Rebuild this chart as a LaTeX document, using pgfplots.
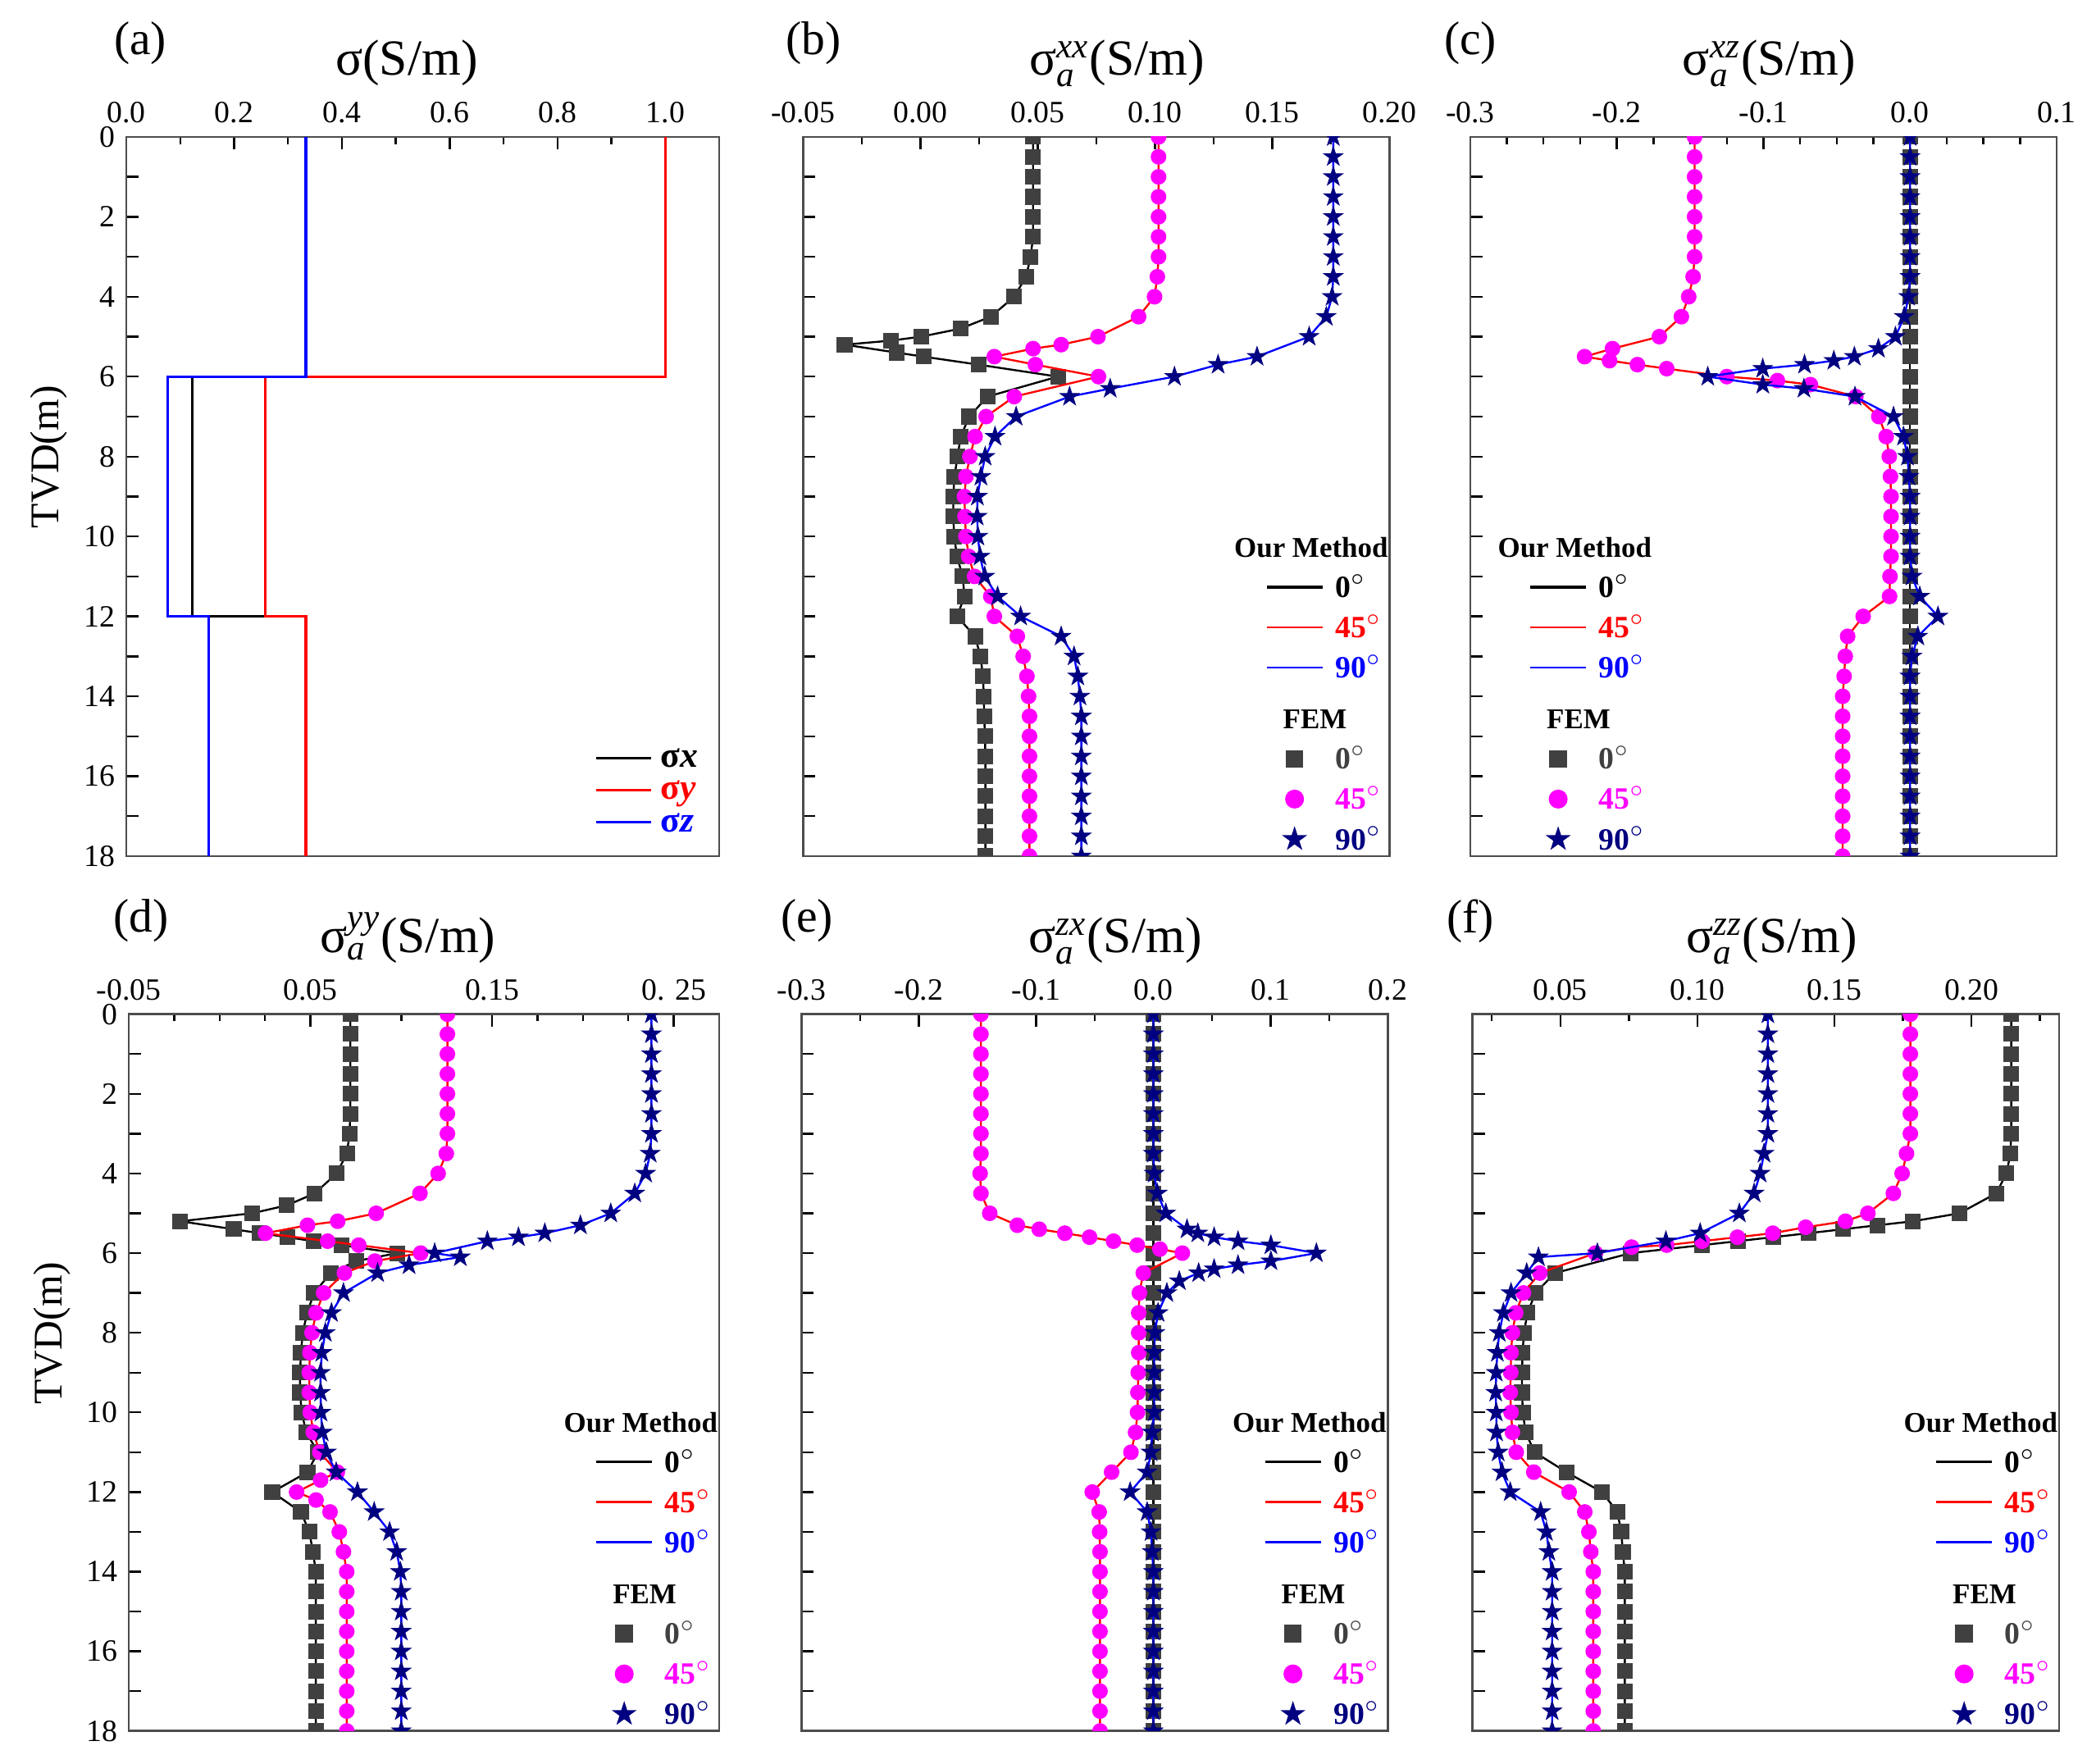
\documentclass[border=0pt]{standalone}
\usepackage{fontspec}
\setmainfont{Liberation Serif}
\usepackage{amsmath}
\usepackage{pgfplots}
\pgfplotsset{compat=1.18}

\definecolor{femgray}{HTML}{404040}
\definecolor{femmag}{RGB}{255,0,255}
\definecolor{navy}{HTML}{000080}
\definecolor{framegray}{HTML}{4D4D4D}

% filled five-point star
\pgfdeclareplotmark{fstar}{%
  \pgfpathmoveto{\pgfpoint{0pt}{\pgfplotmarksize}}%
  \pgfpathlineto{\pgfpoint{-0.2245\pgfplotmarksize}{0.309\pgfplotmarksize}}%
  \pgfpathlineto{\pgfpoint{-0.9511\pgfplotmarksize}{0.309\pgfplotmarksize}}%
  \pgfpathlineto{\pgfpoint{-0.3633\pgfplotmarksize}{-0.118\pgfplotmarksize}}%
  \pgfpathlineto{\pgfpoint{-0.5878\pgfplotmarksize}{-0.809\pgfplotmarksize}}%
  \pgfpathlineto{\pgfpoint{0pt}{-0.382\pgfplotmarksize}}%
  \pgfpathlineto{\pgfpoint{0.5878\pgfplotmarksize}{-0.809\pgfplotmarksize}}%
  \pgfpathlineto{\pgfpoint{0.3633\pgfplotmarksize}{-0.118\pgfplotmarksize}}%
  \pgfpathlineto{\pgfpoint{0.9511\pgfplotmarksize}{0.309\pgfplotmarksize}}%
  \pgfpathlineto{\pgfpoint{0.2245\pgfplotmarksize}{0.309\pgfplotmarksize}}%
  \pgfpathclose
  \pgfusepathqfillstroke}

\newcommand{\dg}{$^{\circ}$}
\newcommand{\legtxt}[2]{\textcolor{#1}{\strut#2\dg}}
\newcommand{\hd}{\fontsize{8.8}{11.2}\selectfont}

\newcommand{\femlegend}{%
  \addlegendimage{empty legend}\addlegendentry{\hspace*{-31pt}{\hd\strut Our Method}}%
  \addlegendimage{black, line width=0.9pt}\addlegendentry{\legtxt{black}{0}}%
  \addlegendimage{red, line width=0.7pt}\addlegendentry{\legtxt{red}{45}}%
  \addlegendimage{blue, line width=0.7pt}\addlegendentry{\legtxt{blue}{90}}%
  \addlegendimage{empty legend}\addlegendentry{\hspace*{-16pt}{\hd\rule{0pt}{11.2pt}\strut FEM}}%
  \addlegendimage{only marks, mark=square*, mark size=2.5pt, femgray}\addlegendentry{\legtxt{femgray}{0}}%
  \addlegendimage{only marks, mark=*, mark size=2.7pt, femmag}\addlegendentry{\legtxt{femmag}{45}}%
  \addlegendimage{only marks, mark=fstar, mark size=3.4pt, navy}\addlegendentry{\legtxt{navy}{90}}%
}

\pgfplotsset{
  panel/.style={
    scale only axis, width=180pt, height=220.75pt,
    y dir=reverse, ymin=0, ymax=18,
    ytick={0,1,...,18}, yticklabel={\mbox{}},
    axis line style={framegray, line width=0.7pt},
    tick style={black, line width=0.6pt},
    tick align=inside,
    xtick pos=upper, xticklabel pos=upper, ytick pos=left,
    major tick length=3.75pt, minor tick length=2.2pt,
    ticklabel style={font=\fontsize{9.5}{11}\selectfont},
    xticklabel style={inner sep=0pt, yshift=4pt},
    /pgf/number format/assume math mode=true,
    clip mode=individual, clip marker paths=true,
  },
  leftpanel/.style={
    yticklabels={0,,2,,4,,6,,8,,10,,12,,14,,16,,18},
    ylabel={TVD(m)},
    ylabel style={font=\fontsize{12.5}{14}\selectfont, at={(axis description cs:-0.13,0.555)}, anchor=center},
  },
  femleg/.style={
    legend style={draw=none, fill=none, at={(1,0)}, anchor=south east,
      inner sep=0pt, outer sep=0pt, nodes={inner sep=0.5pt}, row sep=2pt, column sep=3pt,
      font=\bfseries\fontsize{9.5}{11.2}\selectfont},
    legend cell align=left,
  },
  c0/.style={black, line width=0.6pt, mark=square*, mark size=2.1pt,
    mark options={fill=femgray, draw=femgray}, forget plot},
  c45/.style={red, line width=0.6pt, mark=*, mark size=2.1pt,
    mark options={fill=femmag, draw=femmag}, forget plot},
  c90/.style={blue, line width=0.6pt, mark=fstar, mark size=3.1pt,
    mark options={fill=navy, draw=navy, line width=0.2pt}, forget plot},
}

\newcommand{\sa}[1]{σ$_{\text{\itshape a}}^{\text{\itshape #1}}$(S/m)}
\newcommand{\ttl}[2]{\node[anchor=base, font=\fontsize{15.5}{17}\selectfont, yshift=19pt] at (axis description cs:#1,1) {#2};}
\newcommand{\plab}[2]{\node[anchor=west, font=\fontsize{14.5}{16}\selectfont] at (axis description cs:#1,1.13) {#2};}

\begin{document}
\begin{tikzpicture}
\path[use as bounding box] (0pt,0pt) rectangle (640.55pt,-541.35pt);

% ---------------- (a)
\begin{axis}[panel, leftpanel, at={(38.75pt,-42pt)}, anchor=north west, width=182pt,
  xmin=0, xmax=1.1, xtick={0,0.2,...,1.0}, minor x tick num=1,
  xticklabel style={/pgf/number format/.cd, fixed, fixed zerofill, precision=1},
  legend style={draw=none, fill=none, at={(0.985,0.015)}, anchor=south east,
    nodes={inner sep=0.5pt}, row sep=0pt, column sep=2pt,
    font=\bfseries\fontsize{11}{10.5}\selectfont},
  legend cell align=left]
\addplot[black, line width=0.8pt] coordinates {(1,0) (1,6) (0.123,6) (0.123,12) (0.3333,12) (0.3333,18)};
\addlegendentry{\textcolor{black}{\strut σ\textit{x}}}
\addplot[red, line width=0.8pt] coordinates {(1,0) (1,6) (0.258,6) (0.258,12) (0.3333,12) (0.3333,18)};
\addlegendentry{\textcolor{red}{\strut σ\textit{y}}}
\addplot[blue, line width=0.8pt] coordinates {(0.3333,0) (0.3333,6) (0.077,6) (0.077,12) (0.153,12) (0.153,18)};
\addlegendentry{\textcolor{blue}{\strut σ\textit{z}}}
\plab{-0.04}{(a)}
\ttl{0.473}{σ(S/m)}
\end{axis}

% ---------------- (b)
\begin{axis}[panel, femleg, at={(246.5pt,-42pt)}, anchor=north west,
  xmin=-0.05, xmax=0.20, xtick={-0.05,0,0.05,0.10,0.15,0.20}, minor x tick num=1,
  xticklabel style={/pgf/number format/.cd, fixed, fixed zerofill, precision=2}]
\addplot[c0] table {
v d
0.048 0
0.048 0.5
0.048 1
0.048 1.5
0.048 2
0.048 2.5
0.047 3
0.045 3.5
0.040 4
0.030 4.5
0.017 4.8
0.0003 5.0
-0.0127 5.1
-0.0323 5.2
-0.010 5.4
0.0013 5.5
0.0247 5.7
0.0586 6.0
0.0286 6.5
0.0208 7.0
0.0172 7.5
0.0158 8.0
0.0145 8.5
0.0140 9.0
0.0140 9.5
0.0144 10.0
0.0156 10.5
0.0180 11.0
0.0188 11.5
0.0156 12.0
0.0233 12.5
0.0256 13.0
0.0267 13.5
0.0270 14.0
0.0272 14.5
0.0275 15.0
0.0277 15.5
0.0277 16
0.0277 16.5
0.0277 17
0.0277 17.5
0.0277 18
};
\addplot[c45] table {
v d
0.1015 0
0.1015 0.5
0.1015 1
0.1015 1.5
0.1015 2
0.1015 2.5
0.1015 3
0.1010 3.5
0.0998 4
0.0930 4.5
0.0757 5.0
0.0600 5.2
0.0480 5.3
0.0315 5.5
0.0490 5.7
0.0759 6.0
0.0400 6.5
0.0280 7.0
0.0233 7.5
0.0211 8.0
0.0194 8.5
0.0188 9.0
0.0190 9.5
0.0194 10.0
0.0206 10.5
0.0231 11.0
0.0300 11.5
0.0315 12.0
0.0413 12.5
0.0438 13.0
0.0454 13.5
0.0461 14.0
0.0465 14.5
0.0465 15
0.0465 15.5
0.0465 16
0.0465 16.5
0.0465 17
0.0465 17.5
0.0465 18
};
\addplot[c90] table {
v d
0.176 0
0.176 0.5
0.176 1
0.176 1.5
0.176 2
0.176 2.5
0.176 3
0.176 3.5
0.1755 4
0.1730 4.5
0.1657 5.0
0.1435 5.5
0.1269 5.7
0.1083 6.0
0.0809 6.3
0.0636 6.5
0.0408 7.0
0.0318 7.5
0.0276 8.0
0.0258 8.5
0.0243 9.0
0.0242 9.5
0.0245 10.0
0.0254 10.5
0.0274 11.0
0.0329 11.5
0.0427 12.0
0.0600 12.5
0.0655 13.0
0.0671 13.5
0.0680 14.0
0.0686 14.5
0.0686 15
0.0686 15.5
0.0686 16
0.0686 16.5
0.0686 17
0.0686 17.5
0.0686 18
};
\femlegend
\plab{-0.049}{(b)}
\ttl{0.535}{\sa{xx}}
\end{axis}

% ---------------- (c)
\begin{axis}[panel, femleg, at={(451.25pt,-42pt)}, anchor=north west,
  legend style={at={(0,0)}, anchor=south west, xshift=18pt},
  xmin=-0.3, xmax=0.1, xtick={-0.3,-0.2,-0.1,0,0.1}, minor x tick num=3,
  xticklabel style={/pgf/number format/.cd, fixed, fixed zerofill, precision=1}]
\addplot[c0] table {
v d
0 0
0 0.5
0 1
0 1.5
0 2
0 2.5
0 3
0 3.5
0 4
0 4.5
0 5
0 5.5
0 6
0 6.5
0 7
0 7.5
0 8
0 8.5
0 9
0 9.5
0 10
0 10.5
0 11
0 11.5
0 12
0 12.5
0 13
0 13.5
0 14
0 14.5
0 15
0 15.5
0 16
0 16.5
0 17
0 17.5
0 18
};
\addplot[c45] table {
v d
-0.147 0
-0.147 0.5
-0.147 1
-0.147 1.5
-0.147 2
-0.147 2.5
-0.147 3
-0.148 3.5
-0.151 4.0
-0.156 4.5
-0.171 5.0
-0.203 5.3
-0.222 5.5
-0.205 5.6
-0.186 5.7
-0.166 5.8
-0.125 6.0
-0.0905 6.1
-0.068 6.2
-0.037 6.5
-0.0213 7.0
-0.0163 7.5
-0.0142 8.0
-0.0134 8.5
-0.0130 9.0
-0.0130 9.5
-0.0130 10.0
-0.0130 10.5
-0.0137 11.0
-0.0140 11.5
-0.0320 12.0
-0.0426 12.5
-0.0442 13.0
-0.0450 13.5
-0.046 14
-0.046 14.5
-0.046 15
-0.046 15.5
-0.046 16
-0.046 16.5
-0.046 17
-0.046 17.5
-0.046 18
};
\addplot[c90] table {
v d
0 0
0 0.5
0 1
0 1.5
0 2
0 2.5
0 3
0 3.5
-0.001 4.0
-0.004 4.5
-0.010 5.0
-0.0216 5.3
-0.038 5.5
-0.052 5.6
-0.072 5.7
-0.1005 5.8
-0.138 6.0
-0.1005 6.2
-0.0724 6.3
-0.0376 6.5
-0.0113 7.0
-0.0045 7.5
-0.0018 8.0
-0.0008 8.5
0 9.0
0 9.5
0 10.0
0 10.5
0.0013 11.0
0.0066 11.5
0.0190 12.0
0.0053 12.5
0.0013 13.0
0 13.5
0 14
0 14.5
0 15
0 15.5
0 16
0 16.5
0 17
0 17.5
0 18
};
\femlegend
\plab{-0.064}{(c)}
\ttl{0.51}{\sa{xz}}
\end{axis}

% ---------------- (d)
\begin{axis}[panel, leftpanel, femleg, at={(39.5pt,-311.25pt)}, anchor=north west, width=181.25pt, height=220pt,
  xmin=-0.05, xmax=0.275, xtick={-0.05,0.05,0.15,0.25}, minor x tick num=3,
  xticklabels={-0.05,0.05,0.15,0. 25}]
\addplot[c0] table {
v d
0.072 0
0.072 0.5
0.072 1
0.072 1.5
0.072 2
0.072 2.5
0.0715 3
0.0701 3.5
0.0644 4.0
0.0524 4.5
0.0371 4.8
0.0179 5.0
-0.0216 5.2
0.0078 5.4
0.0221 5.5
0.0375 5.6
0.0516 5.7
0.0672 5.8
0.0977 6.0
0.0753 6.2
0.0612 6.5
0.0520 7.0
0.0482 7.5
0.0458 8.0
0.0448 8.5
0.0443 9.0
0.0443 9.5
0.0452 10.0
0.0477 10.5
0.0541 11.0
0.0484 11.5
0.0290 12.0
0.0448 12.5
0.0494 13.0
0.0514 13.5
0.053 14
0.053 14.5
0.053 15
0.053 15.5
0.053 16
0.053 16.5
0.053 17
0.053 17.5
0.053 18
};
\addplot[c45] table {
v d
0.1254 0
0.1254 0.5
0.1254 1
0.1254 1.5
0.1254 2
0.1254 2.5
0.1254 3
0.1248 3.5
0.1203 4.0
0.1103 4.5
0.0862 5.0
0.0650 5.2
0.0484 5.3
0.0253 5.5
0.0595 5.7
0.0766 5.8
0.1107 6.0
0.0855 6.2
0.0687 6.5
0.0573 7.0
0.0531 7.5
0.0509 8.0
0.0497 8.5
0.0494 9.0
0.0494 9.5
0.0499 10.0
0.0516 10.5
0.0552 11.0
0.0648 11.5
0.0556 11.7
0.0424 12.0
0.0531 12.2
0.0608 12.5
0.0659 13.0
0.0682 13.5
0.070 14
0.070 14.5
0.070 15
0.070 15.5
0.070 16
0.070 16.5
0.070 17
0.070 17.5
0.070 18
};
\addplot[c90] table {
v d
0.2377 0
0.2377 0.5
0.2377 1
0.2377 1.5
0.2377 2
0.2377 2.5
0.2377 3
0.2370 3.5
0.2345 4.0
0.2285 4.5
0.2153 5.0
0.1986 5.3
0.1790 5.5
0.1645 5.6
0.1474 5.7
0.1184 6.0
0.1325 6.1
0.1043 6.3
0.0870 6.5
0.0682 7.0
0.0616 7.5
0.0582 8.0
0.0563 8.5
0.0556 9.0
0.0556 9.5
0.0558 10.0
0.0565 10.5
0.0588 11.0
0.0642 11.5
0.0759 12.0
0.0851 12.5
0.0936 13.0
0.0975 13.5
0.0995 14
0.100 14.5
0.100 15
0.100 15.5
0.100 16
0.100 16.5
0.100 17
0.100 17.5
0.100 18
};
\femlegend
\plab{-0.045}{(d)}
\ttl{0.473}{\sa{yy}}
\end{axis}

% ---------------- (e)
\begin{axis}[panel, femleg, at={(246pt,-311.25pt)}, anchor=north west, height=220pt,
  xmin=-0.3, xmax=0.2, xtick={-0.3,-0.2,-0.1,0,0.1,0.2}, minor x tick num=1,
  xticklabel style={/pgf/number format/.cd, fixed, fixed zerofill, precision=1}]
\addplot[c0] table {
v d
0 0
0 0.5
0 1
0 1.5
0 2
0 2.5
0 3
0 3.5
0 4
0 4.5
0 5
0 5.5
0 6
0 6.5
0 7
0 7.5
0 8
0 8.5
0 9
0 9.5
0 10
0 10.5
0 11
0 11.5
0 12
0 12.5
0 13
0 13.5
0 14
0 14.5
0 15
0 15.5
0 16
0 16.5
0 17
0 17.5
0 18
};
\addplot[c45] table {
v d
-0.147 0
-0.147 0.5
-0.147 1
-0.147 1.5
-0.147 2
-0.147 2.5
-0.147 3
-0.147 3.5
-0.1477 4.0
-0.147 4.5
-0.1395 5.0
-0.116 5.3
-0.0973 5.4
-0.0755 5.5
-0.0544 5.6
-0.034 5.7
-0.0138 5.8
0.0056 5.9
0.0247 6.0
-0.0086 6.5
-0.0119 7.0
-0.0125 7.5
-0.0125 8.0
-0.0125 8.5
-0.0129 9.0
-0.0132 9.5
-0.0135 10.0
-0.0152 10.5
-0.0191 11.0
-0.0356 11.5
-0.0521 12.0
-0.0462 12.5
-0.0458 13.0
-0.0455 13.5
-0.0455 14
-0.0455 14.5
-0.0455 15
-0.0455 15.5
-0.0455 16
-0.0455 16.5
-0.0455 17
-0.0455 17.5
-0.0455 18
};
\addplot[c90] table {
v d
0 0
0 0.5
0 1
0 1.5
0 2
0 2.5
0 3
0 3.5
0.0007 4.0
0.0033 4.5
0.0106 5.0
0.0287 5.4
0.0379 5.5
0.0518 5.6
0.0722 5.7
0.1002 5.8
0.1390 6.0
0.1002 6.2
0.0722 6.3
0.0518 6.4
0.0386 6.5
0.0221 6.7
0.0115 7.0
0.0040 7.5
0.0013 8.0
0.0007 8.5
0.0007 9.0
0.0007 9.5
0.0007 10.0
-0.0010 10.5
-0.0020 11.0
-0.0053 11.5
-0.0198 12.0
-0.0053 12.5
-0.0020 13.0
-0.0010 13.5
0 14
0 14.5
0 15
0 15.5
0 16
0 16.5
0 17
0 17.5
0 18
};
\femlegend
\plab{-0.055}{(e)}
\ttl{0.535}{\sa{zx}}
\end{axis}

% ---------------- (f)
\begin{axis}[panel, femleg, at={(452pt,-311.25pt)}, anchor=north west, height=220pt,
  xmin=0.018, xmax=0.232, xtick={0.05,0.10,0.15,0.20},
  minor xtick={0.025,0.075,0.125,0.175,0.225},
  xticklabel style={/pgf/number format/.cd, fixed, fixed zerofill, precision=2}]
\addplot[c0] table {
v d
0.2145 0
0.2145 0.5
0.2145 1
0.2145 1.5
0.2145 2
0.2145 2.5
0.2145 3
0.2142 3.5
0.2128 4.0
0.2090 4.5
0.1956 5.0
0.1787 5.2
0.1658 5.3
0.1532 5.4
0.1405 5.5
0.1276 5.6
0.1147 5.7
0.1017 5.8
0.0757 6.0
0.0480 6.5
0.0409 7.0
0.0380 7.5
0.0367 8.0
0.0362 8.5
0.0360 9.0
0.0360 9.5
0.0363 10.0
0.0373 10.5
0.0406 11.0
0.0522 11.5
0.0652 12.0
0.0708 12.5
0.0722 13.0
0.0728 13.5
0.0735 14
0.0735 14.5
0.0735 15
0.0735 15.5
0.0735 16
0.0735 16.5
0.0735 17
0.0735 17.5
0.0735 18
};
\addplot[c45] table {
v d
0.1777 0
0.1777 0.5
0.1777 1
0.1777 1.5
0.1777 2
0.1777 2.5
0.1777 3
0.1763 3.5
0.1747 4.0
0.1715 4.5
0.1622 5.0
0.1540 5.2
0.1395 5.35
0.1275 5.5
0.1146 5.6
0.1017 5.7
0.0888 5.8
0.0760 5.85
0.0628 6.0
0.0425 6.5
0.0365 7.0
0.0337 7.5
0.0325 8.0
0.0320 8.5
0.0319 9.0
0.0317 9.5
0.0320 10.0
0.0325 10.5
0.0339 11.0
0.0403 11.5
0.0532 12.0
0.0589 12.5
0.0604 13.0
0.0611 13.5
0.062 14
0.062 14.5
0.062 15
0.062 15.5
0.062 16
0.062 16.5
0.062 17
0.062 17.5
0.062 18
};
\addplot[c90] table {
v d
0.1257 0
0.1257 0.5
0.1257 1
0.1257 1.5
0.1257 2
0.1257 2.5
0.1257 3
0.1243 3.5
0.1229 4.0
0.1207 4.5
0.1153 5.0
0.1010 5.5
0.0885 5.7
0.0635 6.0
0.0420 6.1
0.0377 6.5
0.0320 7.0
0.0292 7.5
0.0277 8.0
0.0270 8.5
0.0266 9.0
0.0264 9.5
0.0266 10.0
0.0267 10.5
0.0273 11.0
0.0287 11.5
0.0317 12.0
0.0428 12.5
0.0449 13.0
0.0458 13.5
0.047 14
0.047 14.5
0.047 15
0.047 15.5
0.047 16
0.047 16.5
0.047 17
0.047 17.5
0.047 18
};
\femlegend
\plab{-0.064}{(f)}
\ttl{0.51}{\sa{zz}}
\end{axis}
\end{tikzpicture}
\end{document}
